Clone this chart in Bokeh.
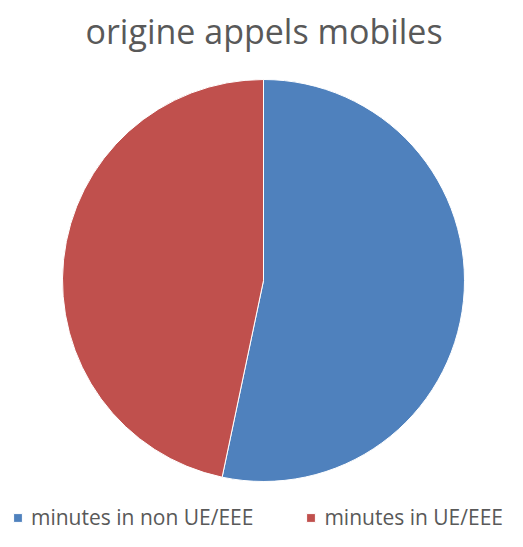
import numpy as np
from bokeh.plotting import figure
from bokeh.models import Range1d, Legend, LegendItem
from bokeh.embed import file_html
from bokeh.resources import INLINE

title_text = "origine appels mobiles"
categories = ["minutes in non UE/EEE", "minutes in UE/EEE"]
values = [53.3, 46.7]
colors = ["#4F81BD", "#C0504D"]

vals = np.array(values, dtype=float)
frac = vals / vals.sum()
ends = np.pi / 2 - 2 * np.pi * np.cumsum(frac)
starts = np.concatenate([[np.pi / 2], ends[:-1]])

W, H = 507, 531
FH = 473
p = figure(width=W, height=H, output_backend="svg", toolbar_location=None,
           min_border=0, x_range=Range1d(0, W), y_range=Range1d(0, FH),
           title=title_text)
p.axis.visible = False
p.grid.visible = False
p.outline_line_color = None
p.title.align = "left"
p.title.offset = 85
p.title.text_font = "Open Sans"
p.title.text_font_style = "normal"
p.title.text_font_size = "34px"
p.title.text_color = "#595959"

renderers = []
for i in range(len(categories)):
    r = p.wedge(x=263, y=251, radius=201, radius_units="screen",
                start_angle=starts[i], end_angle=ends[i], direction="clock",
                fill_color=colors[i], line_color="white", line_width=1)
    renderers.append(r)

legend = Legend(items=[LegendItem(label=categories[i], renderers=[renderers[i]]) for i in range(len(categories))],
                orientation="horizontal", location=(12, 0),
                label_text_font="Open Sans", label_text_font_size="21px",
                label_text_color="#595959", glyph_width=11, glyph_height=11,
                label_standoff=8, spacing=52, padding=0, margin=0,
                border_line_color=None, background_fill_alpha=0)
p.add_layout(legend, "center")

open("out.html", "w").write(file_html(p, INLINE))
